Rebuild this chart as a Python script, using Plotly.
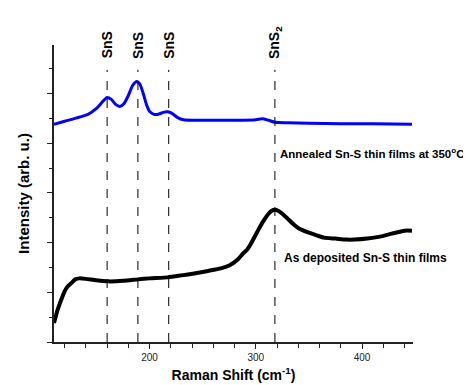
import plotly.graph_objects as go

# Annealed Sn-S thin films (blue)
ann_x = [110, 120, 130, 142, 150, 156, 160, 164, 168, 172, 176, 180, 184, 188, 191, 194, 197, 200,
         204, 208, 213, 217, 221, 226, 232, 240, 260, 280, 300, 306, 312, 318, 330, 350, 380, 410, 447]
ann_y = [8.76, 8.88, 9.0, 9.16, 9.4, 9.68, 9.84, 9.76, 9.56, 9.48, 9.6, 9.92, 10.32, 10.48, 10.36, 10.0, 9.56, 9.28,
         9.16, 9.16, 9.24, 9.26, 9.2, 9.04, 8.94, 8.92, 8.92, 8.92, 8.94, 8.98, 8.92, 8.84, 8.82, 8.8, 8.78, 8.78, 8.76]

# As deposited Sn-S thin films (black)
dep_x = [110, 113, 117, 120, 123, 127, 130, 134, 140, 150, 161, 175, 189, 200, 217, 230, 242, 255, 267, 275,
         283, 288, 292, 296, 300, 304, 308, 312, 315, 318, 321, 325, 330, 336, 341, 350, 358, 364, 375, 385,
         393, 405, 417, 428, 440, 447]
dep_y = [0.76, 1.24, 1.72, 2.04, 2.24, 2.4, 2.52, 2.56, 2.54, 2.48, 2.44, 2.46, 2.52, 2.56, 2.6, 2.68, 2.76, 2.86, 2.96, 3.08,
         3.32, 3.56, 3.72, 4.0, 4.32, 4.64, 4.92, 5.16, 5.28, 5.32, 5.28, 5.16, 4.96, 4.72, 4.56, 4.4, 4.28, 4.2, 4.16, 4.12,
         4.12, 4.16, 4.24, 4.36, 4.48, 4.48]

# Peak markers
peak_x = [160, 189, 218, 318]
peak_labels = ["SnS", "SnS", "SnS", "SnS<sub>2</sub>"]

font_family = "Liberation Sans, Arial, sans-serif"

fig = go.Figure()
fig.add_trace(go.Scatter(x=ann_x, y=ann_y, mode="lines", line=dict(color="#0000ff", width=3, shape="spline", smoothing=0.6),
                         showlegend=False))
fig.add_trace(go.Scatter(x=dep_x, y=dep_y, mode="lines", line=dict(color="black", width=4, shape="spline", smoothing=0.5),
                         showlegend=False))

for px, lab in zip(peak_x, peak_labels):
    fig.add_shape(type="line", x0=px, x1=px, y0=0, y1=10.95, xref="x", yref="y",
                  line=dict(color="black", width=1, dash="dash"))
    fig.add_annotation(x=px, y=11.32, xref="x", yref="y", text=lab, textangle=-90, showarrow=False,
                       xanchor="center", yanchor="bottom",
                       font=dict(family=font_family, size=14, color="black", weight="bold"))

fig.add_annotation(x=321, y=7.6, xref="x", yref="y", text="Annealed Sn-S thin films at 350<sup>o</sup>C",
                   showarrow=False, xanchor="left", yanchor="middle",
                   font=dict(family=font_family, size=11.5, color="black", weight="bold"))
fig.add_annotation(x=325, y=3.36, xref="x", yref="y", text="As deposited Sn-S thin films",
                   showarrow=False, xanchor="left", yanchor="middle",
                   font=dict(family=font_family, size=12, color="black", weight="bold"))

fig.update_layout(
    width=471, height=385,
    margin=dict(l=46, r=66, t=37, b=49),
    paper_bgcolor="white", plot_bgcolor="white",
    font=dict(family=font_family, color="black"),
    xaxis=dict(range=[110, 448], tickmode="linear", tick0=100, dtick=100, ticks="outside", ticklen=5,
               tickcolor="#222", showline=True, linecolor="#222", linewidth=1.5, showgrid=False, zeroline=False,
               tickfont=dict(size=10, color="#222"),
               minor=dict(dtick=20, tick0=100, ticks="outside", ticklen=4, tickcolor="#222", showgrid=False),
               title=dict(text="Raman Shift (cm<sup>-1</sup>)", standoff=8,
                          font=dict(size=14, weight="bold", color="black"))),
    yaxis=dict(range=[0, 11.95], tickmode="linear", tick0=0, dtick=2, ticks="outside", ticklen=5,
               tickcolor="#222", showline=True, linecolor="#222", linewidth=1.5, showgrid=False, zeroline=False,
               showticklabels=False,
               minor=dict(dtick=1, tick0=0, ticks="outside", ticklen=3, tickcolor="#222", showgrid=False),
               title=dict(text="Intensity (arb. u.)", standoff=14,
                          font=dict(size=15, weight="bold", color="black"))),
)

fig.write_html("out.html")
